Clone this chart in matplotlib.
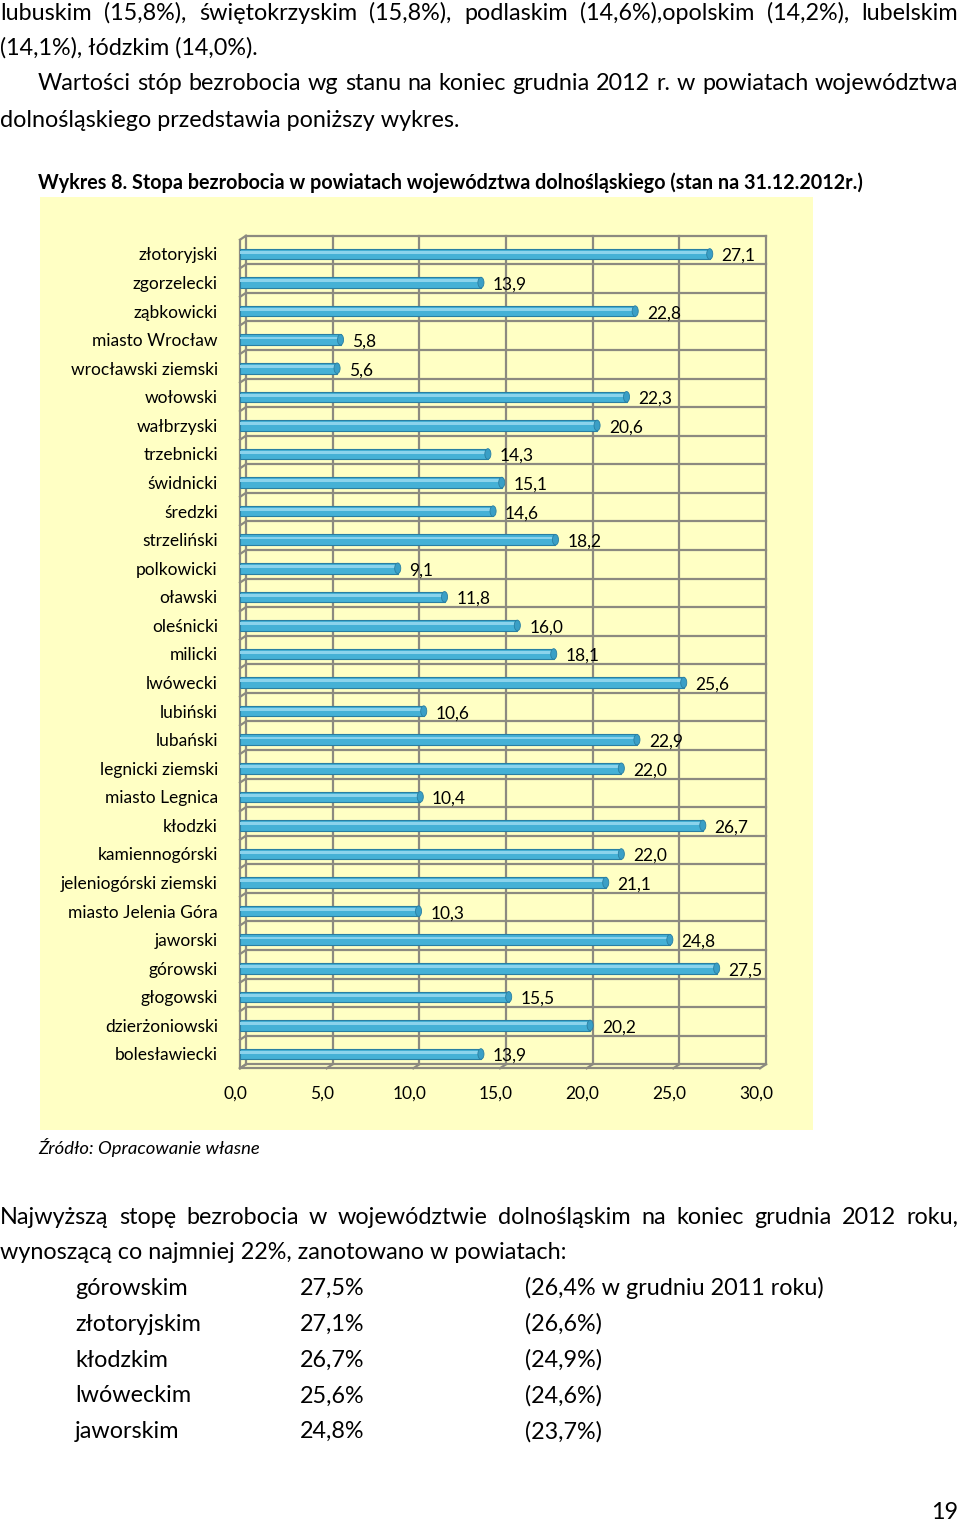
import matplotlib
matplotlib.use('Agg')
import matplotlib.pyplot as plt
from matplotlib.patches import Rectangle, Ellipse
from matplotlib.transforms import offset_copy

plt.rcParams['font.family'] = ['Lato', 'DejaVu Sans']

# data (top to bottom as in the chart)
powiaty = ['złotoryjski', 'zgorzelecki', 'ząbkowicki', 'miasto Wrocław', 'wrocławski ziemski',
           'wołowski', 'wałbrzyski', 'trzebnicki', 'świdnicki', 'średzki', 'strzeliński',
           'polkowicki', 'oławski', 'oleśnicki', 'milicki', 'lwówecki', 'lubiński', 'lubański',
           'legnicki ziemski', 'miasto Legnica', 'kłodzki', 'kamiennogórski',
           'jeleniogórski ziemski', 'miasto Jelenia Góra', 'jaworski', 'górowski', 'głogowski',
           'dzierżoniowski', 'bolesławiecki']
stopa = [27.1, 13.9, 22.8, 5.8, 5.6, 22.3, 20.6, 14.3, 15.1, 14.6, 18.2, 9.1, 11.8, 16.0,
         18.1, 25.6, 10.6, 22.9, 22.0, 10.4, 26.7, 22.0, 21.1, 10.3, 24.8, 27.5, 15.5, 20.2, 13.9]
xticks = [0, 5, 10, 15, 20, 25, 30]

top_rows = ['górowskim', 'złotoryjskim', 'kłodzkim', 'lwóweckim', 'jaworskim']
top_2012 = ['27,5%', '27,1%', '26,7%', '25,6%', '24,8%']
top_2011 = ['(26,4% w grudniu 2011 roku)', '(26,6%)', '(24,9%)', '(24,6%)', '(23,7%)']

W, H = 960, 1521
fig = plt.figure(figsize=(W / 100, H / 100), dpi=100)
fig.patch.set_facecolor('white')


def fy(y):
    return 1 - y / H


def fx(x):
    return x / W


renderer = fig.canvas.get_renderer()
BODY = 16.8
BASE = 8  # pixels from visual centre of a line to its baseline


def line(x, y, s, size=BODY, **kw):
    return fig.text(fx(x), fy(y + BASE), s, fontsize=size, va='baseline', **kw)


def justified(text, y, x0, x1, size=BODY, **kw):
    words = text.split(' ')
    objs = [line(0, y, w, size, **kw) for w in words]
    widths = [o.get_window_extent(renderer).width for o in objs]
    gap = (x1 - x0 - sum(widths)) / (len(words) - 1)
    x = x0
    for o, w in zip(objs, widths):
        o.set_x(fx(x))
        x += w + gap


justified('lubuskim (15,8%), świętokrzyskim (15,8%), podlaskim (14,6%),opolskim (14,2%), lubelskim',
          12, 0, 958)
line(0, 47, '(14,1%), łódzkim (14,0%).')
justified('Wartości stóp bezrobocia wg stanu na koniec grudnia 2012 r. w powiatach województwa',
          82, 38, 958)
line(0, 119, 'dolnośląskiego przedstawia poniższy wykres.')
line(38, 181, 'Wykres 8. Stopa bezrobocia w powiatach województwa dolnośląskiego (stan na 31.12.2012r.)',
     size=14.2, fontweight='bold')

# chart background
fig.patches.append(Rectangle((fx(40), fy(1130)), fx(813) - fx(40), fy(197) - fy(1130),
                             transform=fig.transFigure, facecolor='#ffffc4', edgecolor='none', zorder=-5))

ax = fig.add_axes([fx(240), fy(1068.3), fx(760) - fx(240), fy(239.7) - fy(1068.3)])
ax.set_zorder(2)
ax.set_facecolor('none')
for s in ax.spines.values():
    s.set_visible(False)
ax.set_xticks([])
ax.set_yticks([])
n = len(powiaty)
ax.set_xlim(0, 30)
ax.set_ylim(n - 0.5, -0.5)

grid_c = '#8c8a80'
lw = 1.6
back = offset_copy(ax.transData, fig=fig, x=6, y=4, units='dots')
for xv in xticks:
    ax.plot([xv, xv], [-0.5, n - 0.5], color=grid_c, lw=lw, transform=back, clip_on=False)
for k in range(n + 1):
    ax.plot([0, 30], [k - 0.5, k - 0.5], color=grid_c, lw=lw, transform=back, clip_on=False)
# front edges of floor and left wall
ax.plot([0, 30], [n - 0.5, n - 0.5], color=grid_c, lw=lw, clip_on=False)
ax.plot([0, 0], [-0.5, n - 0.5], color=grid_c, lw=lw, clip_on=False)
for xv in xticks:
    p = ax.transData.transform((xv, n - 0.5))
    q = back.transform((xv, n - 0.5))
    ax.plot([p[0], q[0]], [p[1], q[1]], color=grid_c, lw=lw, transform=None, clip_on=False)
for k in range(n + 1):
    p = ax.transData.transform((0, k - 0.5))
    q = back.transform((0, k - 0.5))
    ax.plot([p[0], q[0]], [p[1], q[1]], color=grid_c, lw=lw, transform=None, clip_on=False)

ys = list(range(n))
ax.barh(ys, stopa, height=0.37, color='#45b1d6', edgecolor='#2a7fa2', linewidth=0.8, zorder=3)
ax.barh([y - 0.06 for y in ys], stopa, height=0.1, color='#8bd3ec', linewidth=0, zorder=4)
for y, v in zip(ys, stopa):
    ax.add_patch(Ellipse((v, y), 0.35, 0.37, facecolor='#3a9fc6', edgecolor='#2a7fa2', lw=0.6, zorder=5))
    ax.annotate(f'{v:.1f}'.replace('.', ','), (v, y), xytext=(8.5, -1.5), textcoords='offset points',
                fontsize=12.5, va='center', ha='left', zorder=6)
for y, name in zip(ys, powiaty):
    ax.annotate(name, (0, y), xytext=(-16, -1), textcoords='offset points',
                fontsize=12.5, va='center', ha='right')
for xv in xticks:
    ax.annotate(f'{xv:.1f}'.replace('.', ','), (xv, n - 0.5), xytext=(-3, -18), textcoords='offset points',
                fontsize=12.5, va='center', ha='center', annotation_clip=False)

line(38, 1146, 'Źródło: Opracowanie własne', size=13.3, style='italic')

justified('Najwyższą stopę bezrobocia w województwie dolnośląskim na koniec grudnia 2012 roku,',
          1216, 0, 958)
line(0, 1251, 'wynoszącą co najmniej 22%, zanotowano w powiatach:')
for i, (a, b, c) in enumerate(zip(top_rows, top_2012, top_2011)):
    yy = 1287 + i * 35.8
    line(75, yy, a)
    line(300, yy, b)
    line(525, yy, c)

line(958, 1511, '19', ha='right')

fig.savefig('out.png', dpi=100, facecolor='white')
